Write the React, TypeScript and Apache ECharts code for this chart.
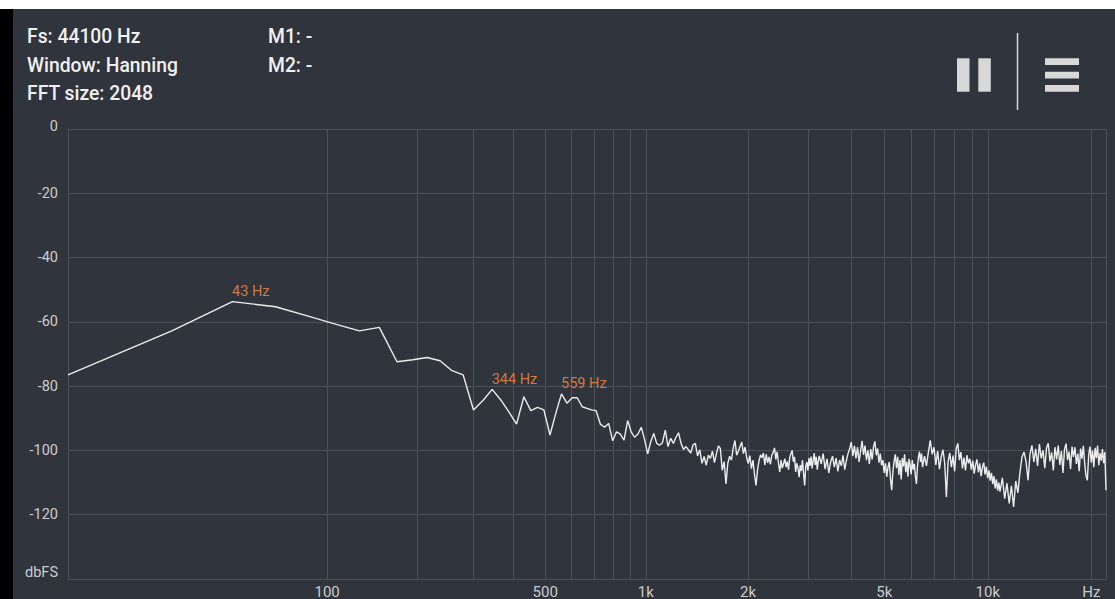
import React, { useEffect, useRef } from 'react';
import * as echarts from 'echarts';

// Analyzer settings (as shown in the header)
const SAMPLE_RATE = 44100;
const FFT_SIZE = 2048;
const WINDOW_NAME = 'Hanning';
const BIN_HZ = SAMPLE_RATE / FFT_SIZE;

// Header texts
const HEADER_LEFT = [`Fs: ${SAMPLE_RATE} Hz`, `Window: ${WINDOW_NAME}`, `FFT size: ${FFT_SIZE}`];
const HEADER_MARKERS = ['M1: -', 'M2: -'];

// Spectrum (dBFS). The analyzer's frequency axis is log(bin + 1).
// Bins 0..70, one value per bin
const LOW_DB = [
  -76.5, -62.8, -53.7, -55.3, -58.3, -60.8, -62.8, -61.7, -72.4, -71.8,
  -71.1, -72.1, -75.2, -76.5, -87.4, -84.4, -81.0, -84.3, -88.0, -91.8,
  -83.3, -87.6, -86.6, -87.4, -95.2, -88.4, -82.4, -85.3, -83.6, -83.6,
  -86.4, -86.9, -87.4, -87.6, -91.8, -92.8, -91.6, -97.0, -94.2, -94.9,
  -96.8, -90.7, -94.2, -95.9, -94.9, -92.8, -96.5, -101.1, -97.3, -94.7,
  -97.8, -98.4, -97.6, -93.7, -98.8, -96.2, -97.8, -95.9, -94.5, -97.8,
  -99.7, -98.8, -99.8, -100.8, -98.3, -97.8, -101.7, -99.8, -104.0, -101.9,
  -104.6,
];
// Bins 71..150, every bin
const MID1_START = 71;
const MID1_STEP = 1;
const MID1_DB = [
  -101.5, -102.5, -100.2, -103.8, -101.0, -98.6, -99.4, -106.2, -103.5, -110.4,
  -104.0, -101.8, -103.0, -99.2, -96.9, -101.5, -100.2, -98.8, -97.4, -101.0,
  -99.0, -102.2, -104.1, -101.6, -105.7, -103.0, -107.5, -110.9, -106.0, -103.2,
  -101.4, -102.3, -100.8, -104.5, -101.2, -103.9, -102.0, -104.3, -101.5, -100.6,
  -99.2, -102.8, -100.4, -104.0, -106.7, -103.0, -105.5, -104.1, -102.6, -105.2,
  -103.4, -106.0, -102.2, -101.0, -100.0, -103.5, -102.0, -106.7, -104.0, -105.5,
  -108.3, -104.6, -106.4, -103.0, -107.2, -110.9, -105.0, -103.6, -106.2, -102.4,
  -104.8, -101.9, -105.6, -103.2, -100.8, -104.5, -102.0, -106.0, -103.3, -101.7,
];
// Bins 152..300, every 2nd bin
const MID2_START = 152;
const MID2_STEP = 2;
const MID2_DB = [
  -104.2, -101.0, -105.8, -102.6, -107.0, -103.5, -101.8, -105.2, -102.4, -106.5,
  -103.0, -104.8, -101.5, -106.0, -103.2, -101.0, -99.5, -97.4, -101.8, -98.6,
  -102.5, -99.0, -103.6, -100.2, -97.0, -101.4, -98.5, -103.0, -100.0, -104.2,
  -99.6, -102.8, -98.8, -97.2, -101.5, -99.4, -103.8, -101.0, -104.6, -103.0,
  -107.0, -104.0, -108.2, -105.2, -103.6, -108.8, -112.4, -106.5, -103.4, -101.2,
  -105.5, -102.0, -107.6, -103.0, -109.0, -102.4, -105.0, -101.2, -106.8, -103.5,
  -108.2, -102.6, -104.5, -107.5, -103.0, -106.0, -104.2, -108.0, -110.4, -105.0,
  -102.0, -100.4, -103.6, -101.0, -105.2,
];
// Bins 304..500, every 4th bin
const MID3_START = 304;
const MID3_STEP = 4;
const MID3_DB = [
  -101.8, -104.8, -100.5, -96.9, -101.2, -99.0, -104.5, -100.2, -105.8, -102.0,
  -99.8, -104.0, -114.5, -103.5, -100.8, -105.2, -101.6, -106.5, -99.4, -97.8,
  -103.0, -100.5, -105.6, -102.2, -106.2, -101.5, -104.0, -102.6, -106.0, -103.2,
  -107.2, -104.5, -102.8, -106.8, -104.0, -108.0, -105.2, -103.8, -107.5, -105.0,
  -108.6, -106.2, -109.4, -107.0, -110.5, -108.0, -111.8, -109.0, -112.5, -110.0,
];
// Bins 504..1024, every 8th bin
const HIGH_START = 504;
const HIGH_STEP = 8;
const HIGH_DB = [
  -112.8, -108.5, -115.0, -110.2, -116.5, -111.0, -117.6, -109.5, -113.2, -106.8,
  -102.0, -100.5, -103.5, -109.3, -101.2, -98.4, -103.6, -99.5, -104.8, -98.0,
  -102.5, -100.0, -105.5, -99.2, -97.8, -103.4, -100.6, -106.2, -99.0, -102.8,
  -98.5, -104.5, -100.2, -107.0, -99.6, -97.9, -103.0, -100.4, -105.8, -98.8,
  -102.0, -99.0, -104.2, -101.0, -106.5, -99.4, -102.6, -98.6, -104.0, -108.0,
  -109.3, -101.5, -98.8, -103.8, -100.0, -105.2, -99.2, -102.4, -98.5, -104.6,
  -100.8, -103.2, -99.6, -104.0, -100.5, -112.4,
];

// Peak markers
const PEAK_BINS = [2, 16, 26];
const PEAK_LABELS = ['43 Hz', '344 Hz', '559 Hz'];

// Axes
const GRID_FREQS = [100, 200, 300, 400, 500, 600, 700, 800, 900, 1000, 2000, 3000, 4000, 5000, 6000, 7000, 8000, 9000, 10000, 20000, 22050];
const LABEL_FREQS = [100, 500, 1000, 2000, 5000, 10000, 20000];
const LABEL_TEXTS = ['100', '500', '1k', '2k', '5k', '10k', 'Hz'];
const Y_MIN = -140;
const Y_MAX = 0;
const Y_STEP = 20;
const Y_BOTTOM_LABEL = 'dbFS';

const BG = '#30343c';
const GRID = '#4d5159';
const LABEL = '#cccccc';
const LINE = '#ececec';
const ORANGE = '#cf7a3e';
const ICON = '#d8d8d8';
const FONT = 'Roboto, "Noto Sans", sans-serif';

const pos = (hz: number) => hz / BIN_HZ + 1;

function buildPoints(): number[][] {
  const pts: number[][] = [];
  LOW_DB.forEach((v, i) => pts.push([i + 1, v]));
  const add = (start: number, step: number, arr: number[]) =>
    arr.forEach((v, i) => pts.push([start + i * step + 1, v]));
  add(MID1_START, MID1_STEP, MID1_DB);
  add(MID2_START, MID2_STEP, MID2_DB);
  add(MID3_START, MID3_STEP, MID3_DB);
  add(HIGH_START, HIGH_STEP, HIGH_DB);
  return pts;
}

export default function App() {
  const ref = useRef<HTMLDivElement>(null);
  useEffect(() => {
    if (!ref.current) return;
    const chart = echarts.init(ref.current, undefined, { renderer: 'svg' });
    const points = buildPoints();
    const labelPos = LABEL_FREQS.map(pos);

    const headerText = (text: string, x: number, y: number) => ({
      type: 'text',
      x,
      y,
      scaleX: 0.92,
      z: 10,
      style: { text, fill: '#f0f0f0', fontSize: 21, fontWeight: 500, fontFamily: FONT, verticalAlign: 'middle', align: 'left' },
    });

    chart.setOption({
      animation: false,
      backgroundColor: BG,
      grid: { left: 68, right: 9, top: 129, bottom: 20, containLabel: false, outerBoundsMode: 'none' },
      xAxis: {
        type: 'log',
        logBase: 10,
        min: 1,
        max: pos(SAMPLE_RATE / 2) + 0.0001,
        axisLine: { show: true, lineStyle: { color: GRID, width: 1 } },
        axisTick: { show: false, customValues: GRID_FREQS.map(pos) },
        axisLabel: {
          show: true,
          customValues: labelPos,
          color: LABEL,
          fontSize: 15,
          fontFamily: FONT,
          margin: 5,
          formatter: (v: number) => {
            let best = 0;
            labelPos.forEach((p, i) => {
              if (Math.abs(p - v) < Math.abs(labelPos[best] - v)) best = i;
            });
            return LABEL_TEXTS[best];
          },
        },
        splitLine: { show: true, lineStyle: { color: GRID, width: 1 } },
      },
      yAxis: {
        type: 'value',
        min: Y_MIN,
        max: Y_MAX,
        interval: Y_STEP,
        axisLine: { show: true, lineStyle: { color: GRID, width: 1 } },
        axisTick: { show: false },
        axisLabel: {
          color: LABEL,
          fontSize: 14.5,
          fontFamily: FONT,
          margin: 10,
          formatter: (v: number) => {
            if (v === Y_MIN) return `{b|${Y_BOTTOM_LABEL}}`;
            if (v === Y_MAX) return `{t|${v}}`;
            return `${v}`;
          },
          rich: {
            b: { color: LABEL, fontSize: 14.5, fontFamily: FONT, padding: [0, 0, 13, 0] },
            t: { color: LABEL, fontSize: 14.5, fontFamily: FONT, padding: [0, 0, 5, 0] },
          },
        },
        splitLine: { show: true, lineStyle: { color: GRID, width: 1 } },
      },
      series: [
        {
          type: 'line',
          data: points,
          showSymbol: false,
          symbol: 'none',
          lineStyle: { color: LINE, width: 1.4 },
          silent: true,
          markPoint: {
            symbol: 'circle',
            symbolSize: 1,
            itemStyle: { color: 'rgba(0,0,0,0)' },
            label: {
              show: true,
              formatter: '{b}',
              position: [0, -2],
              align: 'left',
              verticalAlign: 'bottom',
              color: ORANGE,
              fontSize: 14.5,
              fontFamily: FONT,
            },
            data: PEAK_BINS.map((b, i) => ({ name: PEAK_LABELS[i], coord: [b + 1, LOW_DB[b]] })),
          },
        },
      ],
      graphic: [
        { type: 'rect', shape: { x: 0, y: 0, width: 1115, height: 9 }, style: { fill: '#ffffff' }, z: 20 },
        { type: 'rect', shape: { x: 0, y: 9, width: 13, height: 590 }, style: { fill: '#000000' }, z: 20 },
        headerText(HEADER_LEFT[0], 27, 36),
        headerText(HEADER_LEFT[1], 27, 64.5),
        headerText(HEADER_LEFT[2], 27, 93),
        headerText(HEADER_MARKERS[0], 268, 36),
        headerText(HEADER_MARKERS[1], 268, 64.5),
        { type: 'rect', shape: { x: 957, y: 58.3, width: 12.5, height: 33.4 }, style: { fill: ICON }, z: 10 },
        { type: 'rect', shape: { x: 978.3, y: 58.3, width: 12.5, height: 33.4 }, style: { fill: ICON }, z: 10 },
        { type: 'line', shape: { x1: 1017.5, y1: 33, x2: 1017.5, y2: 110 }, style: { stroke: ICON, lineWidth: 1.5 }, z: 10 },
        { type: 'rect', shape: { x: 1045, y: 58.3, width: 34, height: 6.7 }, style: { fill: ICON }, z: 10 },
        { type: 'rect', shape: { x: 1045, y: 71.7, width: 34, height: 6.7 }, style: { fill: ICON }, z: 10 },
        { type: 'rect', shape: { x: 1045, y: 85, width: 34, height: 6.7 }, style: { fill: ICON }, z: 10 },
      ],
    });
    return () => chart.dispose();
  }, []);
  return <div ref={ref} style={{ position: 'fixed', left: 0, top: 0, width: 1115, height: 599 }} />;
}
